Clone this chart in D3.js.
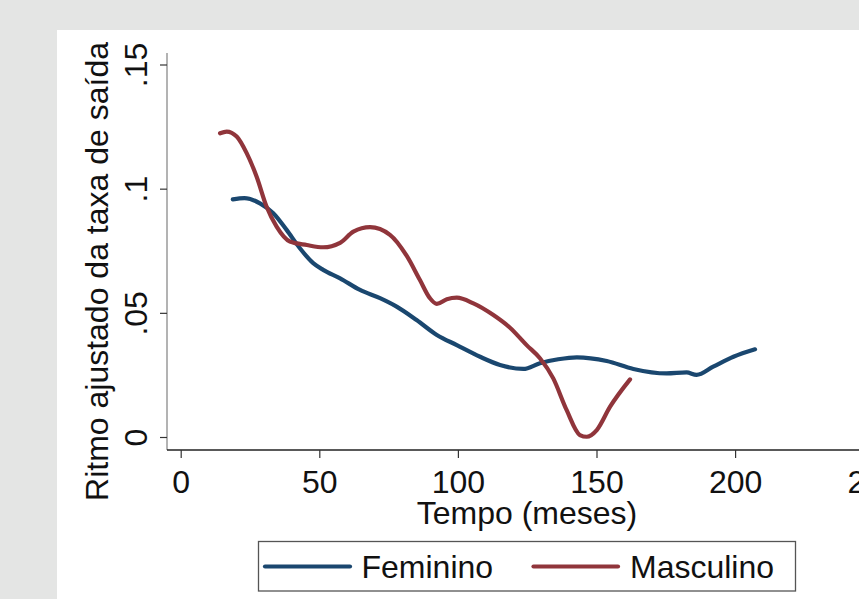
<!DOCTYPE html>
<html><head><meta charset="utf-8">
<script src="https://cdn.jsdelivr.net/npm/d3@7"></script>
<style>
html,body{margin:0;padding:0;background:#e4e5e4;}
svg{display:block;font-family:"Liberation Sans",Arial,sans-serif;}
</style></head>
<body>
<svg id="c" width="859" height="599"></svg>
<script>
// Data
const femT = [18.8,23,28.6,33.4,38.2,43,47.8,51.4,57.5,64.7,71.9,77.9,85.1,92.4,99.6,108,115.2,123.6,129.6,136.2,142.9,153.7,163.3,175.3,182.5,186.1,192.1,199.4,207.2];
const femV = [0.0957,0.0962,0.0941,0.0901,0.0834,0.076,0.070,0.0673,0.0639,0.0592,0.0559,0.0525,0.0471,0.0411,0.037,0.0323,0.029,0.0274,0.0297,0.0313,0.0321,0.0306,0.0274,0.0256,0.026,0.025,0.0283,0.0323,0.0353];
const masT = [14.2,16.6,20.2,23.8,27.4,31,34.6,39.4,45.5,51.4,57.5,62.3,68.3,75.5,81.5,86.3,89.9,92.4,96,99.6,105.6,112.8,118.8,124.8,129.6,134.4,139.2,144,146.5,150.1,154.9,162.1];
const masV = [0.1223,0.123,0.121,0.1143,0.1048,0.0927,0.0847,0.0787,0.0773,0.0764,0.0782,0.0827,0.0845,0.0814,0.0730,0.0632,0.0559,0.0536,0.0555,0.0561,0.0538,0.0491,0.0440,0.037,0.0317,0.0236,0.0109,0.0008,0.0001,0.0028,0.0122,0.0232];
const xTicks = [0,50,100,150,200,250];
const yTicks = [0,0.05,0.1,0.15];
const yTickLabels = ["0",".05",".1",".15"];
const seriesNames = ["Feminino","Masculino"];
const seriesColors = ["#1a476f","#90353b"];
const xTitle = "Tempo (meses)";
const yTitle = "Ritmo ajustado da taxa de saída";

const svg = d3.select("#c");
// white panel
svg.append("rect").attr("x",57).attr("y",30).attr("width",859-57).attr("height",599-30).attr("fill","#ffffff");

const x = d3.scaleLinear().domain([0,250]).range([180.7,873.7]);
const y = d3.scaleLinear().domain([0,0.15]).range([437,64.5]);
const axX = 167, axY = 450;

// axis lines
svg.append("line").attr("x1",axX).attr("x2",axX).attr("y1",53).attr("y2",axY).attr("stroke","#8a8a8a").attr("stroke-width",1.3);
svg.append("line").attr("x1",axX).attr("x2",859).attr("y1",axY).attr("y2",axY).attr("stroke","#222").attr("stroke-width",1.5);

// y axis
const gy = svg.append("g").attr("transform",`translate(${axX},0)`)
  .call(d3.axisLeft(y).tickValues(yTicks).tickSize(7).tickFormat((d,i)=>yTickLabels[i]));
gy.select(".domain").remove();
gy.selectAll(".tick line").attr("stroke","#333").attr("stroke-width",1.2);
gy.selectAll(".tick text")
  .attr("x",null).attr("dy",null)
  .attr("transform","translate(-20,0) rotate(-90)")
  .attr("text-anchor","middle")
  .attr("font-size",32).attr("fill","#111").attr("font-family","Liberation Sans, Arial, sans-serif");

// x axis
const gx = svg.append("g").attr("transform",`translate(0,${axY})`)
  .call(d3.axisBottom(x).tickValues(xTicks).tickSize(8).tickFormat(d3.format("d")));
gx.select(".domain").remove();
gx.selectAll(".tick line").attr("stroke","#333").attr("stroke-width",1.2);
gx.selectAll(".tick text")
  .attr("y",43).attr("dy",null)
  .attr("font-size",32).attr("fill","#111").attr("font-family","Liberation Sans, Arial, sans-serif");

// titles
svg.append("text").attr("x",527).attr("y",523.5).attr("text-anchor","middle")
  .attr("font-size",32).attr("fill","#111").text(xTitle);
svg.append("text").attr("transform","translate(108,271.5) rotate(-90)").attr("text-anchor","middle")
  .attr("font-size",32).attr("fill","#111").text(yTitle);

// lines
const line = d3.line().x(d=>x(d[0])).y(d=>y(d[1])).curve(d3.curveMonotoneX);
const femData = femT.map((t,i)=>[t,femV[i]]);
const masData = masT.map((t,i)=>[t,masV[i]]);
svg.append("path").datum(femData).attr("d",line).attr("fill","none").attr("stroke",seriesColors[0]).attr("stroke-width",4.2).attr("stroke-linecap","round").attr("stroke-linejoin","round");
svg.append("path").datum(masData).attr("d",line).attr("fill","none").attr("stroke",seriesColors[1]).attr("stroke-width",4.2).attr("stroke-linecap","round").attr("stroke-linejoin","round");

// legend
const lg = svg.append("g");
lg.append("rect").attr("x",258.5).attr("y",541.5).attr("width",537).attr("height",49.5)
  .attr("fill","#fff").attr("stroke","#555").attr("stroke-width",1.3);
const legItems = [{x1:265,x2:350,tx:361.5},{x1:533.5,x2:618,tx:630}];
legItems.forEach((it,i)=>{
  lg.append("line").attr("x1",it.x1).attr("x2",it.x2).attr("y1",566.5).attr("y2",566.5)
    .attr("stroke",seriesColors[i]).attr("stroke-width",4.2).attr("stroke-linecap","round");
  lg.append("text").attr("x",it.tx).attr("y",578).attr("font-size",32).attr("fill","#111").text(seriesNames[i]);
});
</script>
</body></html>
